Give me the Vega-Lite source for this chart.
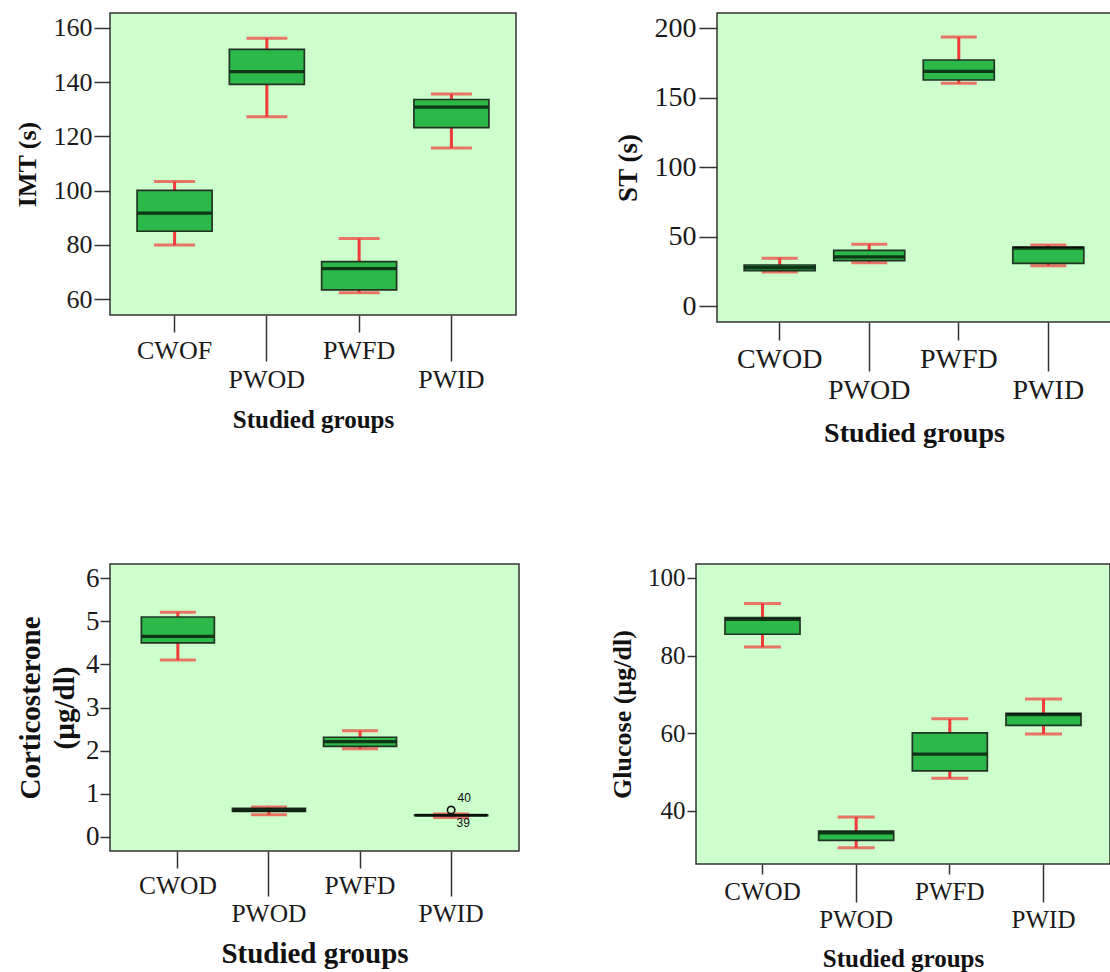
{
  "$schema": "https://vega.github.io/schema/vega-lite/v6.json",
  "background": "white",
  "padding": {"left": 13, "top": 12, "right": 0, "bottom": 0},
  "datasets": {
    "boxes": [
      {"panel": "IMT", "group": "CWOF", "lower": 79.9, "q1": 85.0, "median": 91.7, "q3": 100.1, "upper": 103.3},
      {"panel": "IMT", "group": "PWOD", "lower": 127.2, "q1": 139.2, "median": 143.9, "q3": 152.1, "upper": 156.2},
      {"panel": "IMT", "group": "PWFD", "lower": 62.3, "q1": 63.4, "median": 71.2, "q3": 73.8, "upper": 82.3},
      {"panel": "IMT", "group": "PWID", "lower": 115.7, "q1": 123.2, "median": 130.8, "q3": 133.6, "upper": 135.6},
      {"panel": "ST", "group": "CWOD", "lower": 24.5, "q1": 25.4, "median": 27.6, "q3": 29.5, "upper": 34.3},
      {"panel": "ST", "group": "PWOD", "lower": 31.2, "q1": 32.6, "median": 35.3, "q3": 40.0, "upper": 44.4},
      {"panel": "ST", "group": "PWFD", "lower": 160.2, "q1": 162.6, "median": 168.8, "q3": 177.0, "upper": 193.5},
      {"panel": "ST", "group": "PWID", "lower": 29.0, "q1": 30.7, "median": 41.7, "q3": 42.4, "upper": 43.9},
      {"panel": "CORT", "group": "CWOD", "lower": 4.10, "q1": 4.50, "median": 4.65, "q3": 5.10, "upper": 5.21},
      {"panel": "CORT", "group": "PWOD", "lower": 0.51, "q1": 0.59, "median": 0.62, "q3": 0.66, "upper": 0.69},
      {"panel": "CORT", "group": "PWFD", "lower": 2.04, "q1": 2.10, "median": 2.21, "q3": 2.31, "upper": 2.46},
      {"panel": "CORT", "group": "PWID", "lower": 0.45, "q1": 0.49, "median": 0.50, "q3": 0.51, "upper": 0.53},
      {"panel": "GLU", "group": "CWOD", "lower": 82.2, "q1": 85.5, "median": 89.3, "q3": 89.8, "upper": 93.4},
      {"panel": "GLU", "group": "PWOD", "lower": 30.5, "q1": 32.4, "median": 34.3, "q3": 34.8, "upper": 38.4},
      {"panel": "GLU", "group": "PWFD", "lower": 48.4, "q1": 50.3, "median": 54.6, "q3": 60.1, "upper": 63.7},
      {"panel": "GLU", "group": "PWID", "lower": 59.8, "q1": 62.0, "median": 64.8, "q3": 65.1, "upper": 68.8}
    ],
    "outliers": [
      {"panel": "CORT", "group": "PWID", "id": 40, "value": 0.62},
      {"panel": "CORT", "group": "PWID", "id": 39, "value": 0.46}
    ]
  },
  "vconcat": [
    {
      "hconcat": [
        {
          "width": 406, "height": 302,
          "data": {"name": "boxes"},
          "transform": [{"filter": "datum.panel == 'IMT'"}],
          "encoding": {
            "x": {"field": "group", "type": "nominal", "sort": null,
              "scale": {"paddingInner": 0, "paddingOuter": 0.2},
              "axis": {"title": "Studied groups", "labelAngle": 0, "labelFontSize": 26, "titleFontSize": 25, "labelOverlap": false,
                "tickSize": {"condition": {"test": "datum.value == 'PWOD' || datum.value == 'PWID'", "value": 46}, "value": 17},
                "labelPadding": 5, "titlePadding": 15}}
          },
          "layer": [
            {"mark": {"type": "rule", "color": "#f23a3a", "strokeWidth": 3},
             "encoding": {"y": {"field": "lower", "type": "quantitative", "title": "IMT (s)", "scale": {"domain": [54.1, 165.5], "nice": false, "zero": false},
               "axis": {"values": [60, 80, 100, 120, 140, 160], "tickSize": 16, "labelPadding": 2, "labelFontSize": 26, "titleFontSize": 26, "titlePadding": 13}},
               "y2": {"field": "upper"}}},
            {"mark": {"type": "tick", "color": "#f23a3a", "size": 41, "thickness": 3},
             "encoding": {"y": {"field": "lower", "type": "quantitative", "title": "IMT (s)", "scale": {"domain": [54.1, 165.5], "nice": false, "zero": false}}}},
            {"mark": {"type": "tick", "color": "#f23a3a", "size": 41, "thickness": 3},
             "encoding": {"y": {"field": "upper", "type": "quantitative", "title": "IMT (s)", "scale": {"domain": [54.1, 165.5], "nice": false, "zero": false}}}},
            {"mark": {"type": "bar", "size": 75, "fill": "#2db84a", "stroke": "#223322", "strokeWidth": 1.7},
             "encoding": {"y": {"field": "q1", "type": "quantitative", "title": "IMT (s)", "scale": {"domain": [54.1, 165.5], "nice": false, "zero": false}}, "y2": {"field": "q3"}}},
            {"mark": {"type": "tick", "color": "#000000", "size": 74, "thickness": 3.2},
             "encoding": {"y": {"field": "median", "type": "quantitative", "title": "IMT (s)", "scale": {"domain": [54.1, 165.5], "nice": false, "zero": false}}}}
          ]
        },
        {
          "width": 394, "height": 309,
          "data": {"name": "boxes"},
          "transform": [{"filter": "datum.panel == 'ST'"}],
          "encoding": {
            "x": {"field": "group", "type": "nominal", "sort": null,
              "scale": {"paddingInner": 0, "paddingOuter": 0.2},
              "axis": {"title": "Studied groups", "labelAngle": 0, "labelFontSize": 28, "titleFontSize": 28, "labelOverlap": false,
                "tickSize": {"condition": {"test": "datum.value == 'PWOD' || datum.value == 'PWID'", "value": 49}, "value": 18},
                "labelPadding": 5, "titlePadding": 15}}
          },
          "layer": [
            {"mark": {"type": "rule", "color": "#f23a3a", "strokeWidth": 3},
             "encoding": {"y": {"field": "lower", "type": "quantitative", "title": "ST (s)", "scale": {"domain": [-11.5, 210.8], "nice": false, "zero": false},
               "axis": {"values": [0, 50, 100, 150, 200], "tickSize": 18, "labelPadding": 3, "labelFontSize": 28, "titleFontSize": 27, "titlePadding": 12}},
               "y2": {"field": "upper"}}},
            {"mark": {"type": "tick", "color": "#f23a3a", "size": 36, "thickness": 3},
             "encoding": {"y": {"field": "lower", "type": "quantitative", "title": "ST (s)", "scale": {"domain": [-11.5, 210.8], "nice": false, "zero": false}}}},
            {"mark": {"type": "tick", "color": "#f23a3a", "size": 36, "thickness": 3},
             "encoding": {"y": {"field": "upper", "type": "quantitative", "title": "ST (s)", "scale": {"domain": [-11.5, 210.8], "nice": false, "zero": false}}}},
            {"mark": {"type": "bar", "size": 71, "fill": "#2db84a", "stroke": "#223322", "strokeWidth": 1.7},
             "encoding": {"y": {"field": "q1", "type": "quantitative", "title": "ST (s)", "scale": {"domain": [-11.5, 210.8], "nice": false, "zero": false}}, "y2": {"field": "q3"}}},
            {"mark": {"type": "tick", "color": "#000000", "size": 70, "thickness": 3.2},
             "encoding": {"y": {"field": "median", "type": "quantitative", "title": "ST (s)", "scale": {"domain": [-11.5, 210.8], "nice": false, "zero": false}}}}
          ]
        }
      ],
      "spacing": 96
    },
    {
      "hconcat": [
        {
          "width": 409, "height": 287,
          "encoding": {
            "x": {"field": "group", "type": "nominal", "sort": null,
              "scale": {"domain": ["CWOD", "PWOD", "PWFD", "PWID"], "paddingInner": 0, "paddingOuter": 0.245},
              "axis": {"title": "Studied groups", "labelAngle": 0, "labelFontSize": 25.5, "titleFontSize": 29, "labelOverlap": false,
                "tickSize": {"condition": {"test": "datum.value == 'PWOD' || datum.value == 'PWID'", "value": 45}, "value": 17},
                "labelPadding": 5, "titlePadding": 13}}
          },
          "layer": [
            {"data": {"name": "boxes"}, "transform": [{"filter": "datum.panel == 'CORT'"}],
             "mark": {"type": "rule", "color": "#f23a3a", "strokeWidth": 3},
             "encoding": {"y": {"field": "lower", "type": "quantitative", "title": ["Corticosterone", "(µg/dl)"], "scale": {"domain": [-0.33, 6.33], "nice": false, "zero": false},
               "axis": {"values": [0, 1, 2, 3, 4, 5, 6], "tickSize": 10, "labelPadding": 1, "labelFontSize": 27, "titleFontSize": 29, "titleLineHeight": 34, "titlePadding": 6}},
               "y2": {"field": "upper"}}},
            {"data": {"name": "boxes"}, "transform": [{"filter": "datum.panel == 'CORT'"}],
             "mark": {"type": "tick", "color": "#f23a3a", "size": 36, "thickness": 3},
             "encoding": {"y": {"field": "lower", "type": "quantitative", "title": ["Corticosterone", "(µg/dl)"], "scale": {"domain": [-0.33, 6.33], "nice": false, "zero": false}}}},
            {"data": {"name": "boxes"}, "transform": [{"filter": "datum.panel == 'CORT'"}],
             "mark": {"type": "tick", "color": "#f23a3a", "size": 36, "thickness": 3},
             "encoding": {"y": {"field": "upper", "type": "quantitative", "title": ["Corticosterone", "(µg/dl)"], "scale": {"domain": [-0.33, 6.33], "nice": false, "zero": false}}}},
            {"data": {"name": "boxes"}, "transform": [{"filter": "datum.panel == 'CORT'"}],
             "mark": {"type": "bar", "size": 73, "fill": "#2db84a", "stroke": "#223322", "strokeWidth": 1.7},
             "encoding": {"y": {"field": "q1", "type": "quantitative", "title": ["Corticosterone", "(µg/dl)"], "scale": {"domain": [-0.33, 6.33], "nice": false, "zero": false}}, "y2": {"field": "q3"}}},
            {"data": {"name": "boxes"}, "transform": [{"filter": "datum.panel == 'CORT'"}],
             "mark": {"type": "tick", "color": "#000000", "size": 72, "thickness": 3.2},
             "encoding": {"y": {"field": "median", "type": "quantitative", "title": ["Corticosterone", "(µg/dl)"], "scale": {"domain": [-0.33, 6.33], "nice": false, "zero": false}}}},
            {"data": {"name": "outliers"}, "transform": [{"filter": "datum.id == 40"}],
             "mark": {"type": "point", "shape": "circle", "size": 55, "filled": false, "stroke": "#111111", "strokeWidth": 1.6, "opacity": 1},
             "encoding": {"y": {"field": "value", "type": "quantitative", "title": ["Corticosterone", "(µg/dl)"], "scale": {"domain": [-0.33, 6.33], "nice": false, "zero": false}}}},
            {"data": {"name": "outliers"}, "transform": [{"filter": "datum.id == 40"}],
             "mark": {"type": "text", "font": "Liberation Sans", "fontSize": 12, "color": "#111111", "dx": 13, "dy": -12},
             "encoding": {"y": {"field": "value", "type": "quantitative", "title": ["Corticosterone", "(µg/dl)"], "scale": {"domain": [-0.33, 6.33], "nice": false, "zero": false}}, "text": {"field": "id"}}},
            {"data": {"name": "outliers"}, "transform": [{"filter": "datum.id == 39"}],
             "mark": {"type": "text", "font": "Liberation Sans", "fontSize": 12, "color": "#111111", "dx": 12, "dy": 6},
             "encoding": {"y": {"field": "value", "type": "quantitative", "title": ["Corticosterone", "(µg/dl)"], "scale": {"domain": [-0.33, 6.33], "nice": false, "zero": false}}, "text": {"field": "id"}}}
          ]
        },
        {
          "width": 414, "height": 300,
          "data": {"name": "boxes"},
          "transform": [{"filter": "datum.panel == 'GLU'"}],
          "encoding": {
            "x": {"field": "group", "type": "nominal", "sort": null,
              "scale": {"paddingInner": 0, "paddingOuter": 0.21},
              "axis": {"title": "Studied groups", "labelAngle": 0, "labelFontSize": 25, "titleFontSize": 25, "labelOverlap": false,
                "tickSize": {"condition": {"test": "datum.value == 'PWOD' || datum.value == 'PWID'", "value": 38}, "value": 10},
                "labelPadding": 5, "titlePadding": 14}}
          },
          "layer": [
            {"mark": {"type": "rule", "color": "#f23a3a", "strokeWidth": 3},
             "encoding": {"y": {"field": "lower", "type": "quantitative", "title": "Glucose (µg/dl)", "scale": {"domain": [26.3, 103.6], "nice": false, "zero": false},
               "axis": {"values": [40, 60, 80, 100], "tickSize": 9, "labelPadding": 2, "labelFontSize": 25, "titleFontSize": 26, "titlePadding": 12}},
               "y2": {"field": "upper"}}},
            {"mark": {"type": "tick", "color": "#f23a3a", "size": 37, "thickness": 3},
             "encoding": {"y": {"field": "lower", "type": "quantitative", "title": "Glucose (µg/dl)", "scale": {"domain": [26.3, 103.6], "nice": false, "zero": false}}}},
            {"mark": {"type": "tick", "color": "#f23a3a", "size": 37, "thickness": 3},
             "encoding": {"y": {"field": "upper", "type": "quantitative", "title": "Glucose (µg/dl)", "scale": {"domain": [26.3, 103.6], "nice": false, "zero": false}}}},
            {"mark": {"type": "bar", "size": 75, "fill": "#2db84a", "stroke": "#223322", "strokeWidth": 1.7},
             "encoding": {"y": {"field": "q1", "type": "quantitative", "title": "Glucose (µg/dl)", "scale": {"domain": [26.3, 103.6], "nice": false, "zero": false}}, "y2": {"field": "q3"}}},
            {"mark": {"type": "tick", "color": "#000000", "size": 74, "thickness": 3.2},
             "encoding": {"y": {"field": "median", "type": "quantitative", "title": "Glucose (µg/dl)", "scale": {"domain": [26.3, 103.6], "nice": false, "zero": false}}}}
          ]
        }
      ],
      "spacing": 88
    }
  ],
  "spacing": 115,
  "config": {
    "font": "Liberation Serif",
    "view": {"fill": "#ccffcc", "stroke": "#333333", "strokeWidth": 1.5},
    "axis": {"domain": false, "grid": false, "tickColor": "#333333", "tickWidth": 1.5,
      "labelColor": "#1a1a1a", "titleColor": "#111111", "labelFont": "Liberation Serif", "titleFont": "Liberation Serif", "titleFontWeight": "bold"}
  }
}
